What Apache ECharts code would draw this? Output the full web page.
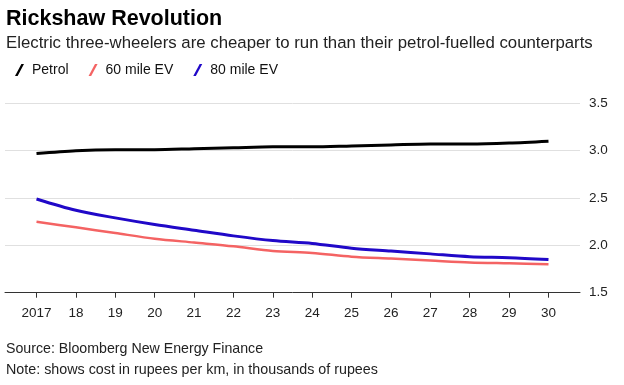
<!DOCTYPE html>
<html>
<head>
<meta charset="utf-8">
<script src="https://cdn.jsdelivr.net/npm/echarts@6/dist/echarts.min.js"></script>
<style>
html,body{margin:0;padding:0;background:#fff;}
#c{width:624px;height:385px;}
</style>
</head>
<body>
<div id="c"></div>
<script>
var years = [2017, 2018, 2019, 2020, 2021, 2022, 2023, 2024, 2025, 2026, 2027, 2028, 2029, 2030];
var yTicks = [1.5, 2.0, 2.5, 3.0, 3.5];
var petrol = [2.97, 3.00, 3.01, 3.01, 3.02, 3.03, 3.04, 3.04, 3.05, 3.06, 3.07, 3.07, 3.08, 3.10];
var ev60 = [2.25, 2.19, 2.13, 2.07, 2.03, 1.99, 1.94, 1.92, 1.88, 1.86, 1.84, 1.82, 1.81, 1.80];
var ev80 = [2.49, 2.37, 2.29, 2.22, 2.16, 2.10, 2.05, 2.02, 1.97, 1.94, 1.91, 1.88, 1.87, 1.85];
var seriesNames = ['Petrol', '60 mile EV', '80 mile EV'];

function pairs(vals) { return years.map(function (y, i) { return [y, vals[i]]; }); }

var FONT = 'Liberation Sans, Arial, sans-serif';
var chart = echarts.init(document.getElementById('c'));
var slash = 'path://M0,12 L2.6,12 L9,0 L6.4,0 Z';
chart.setOption({
  animation: false,
  backgroundColor: '#fff',
  textStyle: { fontFamily: FONT },
  title: [
    { text: 'Rickshaw Revolution', left: 1, top: 3, textStyle: { fontFamily: FONT, fontSize: 21.5, fontWeight: 'bold', color: '#000' } },
    { text: 'Electric three-wheelers are cheaper to run than their petrol-fuelled counterparts', left: 1, top: 30, textStyle: { fontFamily: FONT, fontSize: 16.8, fontWeight: 'normal', color: '#222' } },
    { text: 'Source: Bloomberg New Energy Finance', left: 1, top: 337, textStyle: { fontFamily: FONT, fontSize: 14.2, fontWeight: 'normal', color: '#222' } },
    { text: 'Note: shows cost in rupees per km, in thousands of rupees', left: 1, top: 358, textStyle: { fontFamily: FONT, fontSize: 14.3, fontWeight: 'normal', color: '#222' } }
  ],
  legend: {
    left: 10, top: 58, itemWidth: 9, itemHeight: 12, itemGap: 20,
    icon: slash,
    data: seriesNames,
    textStyle: { fontFamily: FONT, fontSize: 14, color: '#111', padding: [0, 0, 0, 3] }
  },
  grid: { left: 5, right: 44, top: 103.3, bottom: 92.3, containLabel: false },
  xAxis: {
    type: 'value', min: 2016.2, max: 2030.8,
    axisLine: { show: true, lineStyle: { color: '#333', width: 1 } },
    axisTick: { show: true, customValues: years, length: 5, lineStyle: { color: '#333' } },
    axisLabel: {
      customValues: years, margin: 14, fontSize: 13.5, color: '#222', fontFamily: FONT,
      formatter: function (v) { v = Math.round(v); return v === 2017 ? '2017' : String(v).slice(2); }
    },
    splitLine: { show: false }
  },
  yAxis: {
    type: 'value', position: 'right', min: 1.5, max: 3.5, interval: 0.5,
    axisLine: { show: false }, axisTick: { show: false },
    axisLabel: { margin: 9, fontSize: 13.5, color: '#222', fontFamily: FONT, formatter: function (v) { return v.toFixed(1); } },
    splitLine: { show: true, lineStyle: { color: '#e0e0e0', width: 1 } }
  },
  series: [
    { name: seriesNames[0], type: 'line', data: pairs(petrol), smooth: 0.3, symbol: 'none', color: '#000', lineStyle: { width: 3, color: '#000' } },
    { name: seriesNames[1], type: 'line', data: pairs(ev60), smooth: 0.3, symbol: 'none', color: '#f46363', lineStyle: { width: 2.5, color: '#f46363' } },
    { name: seriesNames[2], type: 'line', data: pairs(ev80), smooth: 0.3, symbol: 'none', color: '#2008c8', lineStyle: { width: 3, color: '#2008c8' } }
  ]
});
</script>
</body>
</html>
